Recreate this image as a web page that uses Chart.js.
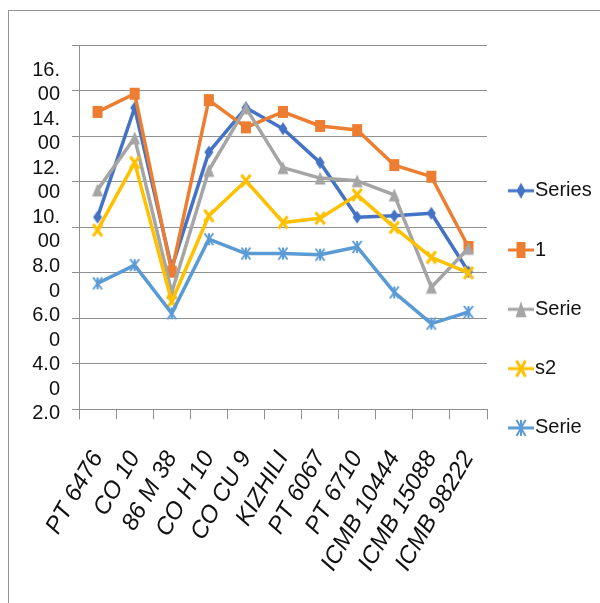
<!DOCTYPE html>
<html>
<head>
<meta charset="utf-8">
<script src="https://cdn.jsdelivr.net/npm/chart.js@4.4.1/dist/chart.umd.min.js"></script>
<style>
  html, body { margin: 0; padding: 0; background: #ffffff; }
  #wrap { position: relative; width: 600px; height: 603px; overflow: hidden; }
  #wrap canvas { position: absolute; left: 0; top: 0; }
  #frame { position: absolute; left: 8px; top: 10px; width: 700px; height: 700px;
           border-left: 1px solid #939393; border-top: 1px solid #939393; pointer-events: none; }
</style>
</head>
<body>
<div id="wrap">
  <canvas id="chart" width="600" height="603"></canvas>
  <div id="frame"></div>
</div>
<script>
// Genotypes on the category axis
const categories = ['PT 6476', 'CO 10', '86 M 38', 'CO H 10', 'CO CU 9', 'KIZHILI',
                    'PT 6067', 'PT 6710', 'ICMB 10444', 'ICMB 15088', 'ICMB 98222'];

// Series values
const series1 = [8.45, 13.26, 6.22, 11.31, 13.26, 12.34, 10.85, 8.45, 8.51, 8.62, 6.05];
const series2 = [13.08, 13.88, 6.05, 13.6, 12.4, 13.08, 12.46, 12.28, 10.74, 10.23, 7.14];
const series3 = [9.65, 11.94, 5.14, 10.51, 13.26, 10.63, 10.17, 10.05, 9.43, 5.37, 7.08];
const series4 = [7.88, 10.85, 4.74, 8.51, 10.05, 8.22, 8.4, 9.43, 8.0, 6.68, 6.0];
const series5 = [5.54, 6.34, 4.22, 7.48, 6.85, 6.85, 6.8, 7.14, 5.14, 3.77, 4.28];

const seriesNames = ['Series1', 'Series2', 'Series3', 'Series4', 'Series5'];
// Legend text as it wraps in the narrow legend column
const legendLines = ['Series', '1', 'Serie', 's2', 'Serie'];

// Value axis: range, step and the wrapped labels of the value column
const yMin = 0;
const yMax = 16;
const yStep = 2;
const yLabelValues = [2, 4, 6, 8, 10, 12, 14, 16];
const yTickLabels = [['2.0', ''], ['4.0', '0'], ['6.0', '0'], ['8.0', '0'],
                     ['10.', '00'], ['12.', '00'], ['14.', '00'], ['16.', '00']];

const seriesColors = ['#4472C4', '#ED7D31', '#A5A5A5', '#FFC000', '#5B9BD5'];
const markerShapes = ['diamond', 'square', 'triangle', 'x', 'star'];
const gridColor = '#8f8f8f';
const textColor = '#111111';
const FONT = "'Liberation Sans', Arial, sans-serif";

// Marker glyphs, drawn once into small canvases and used as point styles
function drawMarker(g, shape, color, cx, cy, w, h) {
  g.fillStyle = color;
  g.strokeStyle = color;
  g.lineCap = 'butt';
  g.beginPath();
  if (shape === 'diamond') {
    g.moveTo(cx, cy - h / 2); g.lineTo(cx + w / 2, cy);
    g.lineTo(cx, cy + h / 2); g.lineTo(cx - w / 2, cy);
    g.closePath(); g.fill();
  } else if (shape === 'square') {
    g.rect(cx - w / 2, cy - h / 2, w, h); g.fill();
  } else if (shape === 'triangle') {
    g.moveTo(cx, cy - h / 2); g.lineTo(cx + w / 2, cy + h / 2);
    g.lineTo(cx - w / 2, cy + h / 2); g.closePath(); g.fill();
  } else if (shape === 'x') {
    g.lineWidth = 3;
    g.moveTo(cx - w / 2, cy - h / 2); g.lineTo(cx + w / 2, cy + h / 2);
    g.moveTo(cx + w / 2, cy - h / 2); g.lineTo(cx - w / 2, cy + h / 2);
    g.stroke();
  } else if (shape === 'star') {
    g.lineWidth = 2;
    g.moveTo(cx - w / 2, cy - h / 2); g.lineTo(cx + w / 2, cy + h / 2);
    g.moveTo(cx + w / 2, cy - h / 2); g.lineTo(cx - w / 2, cy + h / 2);
    g.moveTo(cx, cy - h / 2); g.lineTo(cx, cy + h / 2);
    g.stroke();
  }
}

function pointIcon(shape, color) {
  const c = document.createElement('canvas');
  c.width = 18; c.height = 20;
  const g = c.getContext('2d');
  const dims = { diamond: [9, 13], square: [10, 12], triangle: [11, 13], x: [9, 12], star: [9, 12] }[shape];
  drawMarker(g, shape, color, 9, 10, dims[0], dims[1]);
  return c;
}

function legendIcon(shape, color) {
  const c = document.createElement('canvas');
  c.width = 28; c.height = 22;
  const g = c.getContext('2d');
  g.strokeStyle = color;
  g.lineWidth = 3;
  g.beginPath(); g.moveTo(1, 11); g.lineTo(27, 11); g.stroke();
  drawMarker(g, shape, color, 14, 11, shape === 'triangle' ? 11 : 9, 16);
  return c;
}

const seriesValues = [series1, series2, series3, series4, series5];
const pointIcons = markerShapes.map((s, i) => pointIcon(s, seriesColors[i]));
const legendIcons = markerShapes.map((s, i) => legendIcon(s, seriesColors[i]));

const datasets = seriesValues.map((data, i) => ({
  label: seriesNames[i],
  data: data,
  borderColor: seriesColors[i],
  backgroundColor: seriesColors[i],
  borderWidth: 3.5,
  borderJoinStyle: 'round',
  borderCapStyle: 'round',
  tension: 0,
  fill: false,
  pointStyle: pointIcons[i],
  pointRadius: 6,
  order: seriesValues.length - i,   // later series are painted over earlier ones
  yAxisID: 'y'
}));

new Chart(document.getElementById('chart'), {
  type: 'line',
  data: { labels: categories, datasets: datasets },
  options: {
    responsive: false,
    animation: false,
    devicePixelRatio: 1,
    layout: { padding: { top: 45.5, left: 0, right: 0, bottom: 20.6 } },
    plugins: {
      tooltip: { enabled: false },
      title: { display: false },
      legend: {
        position: 'right',
        align: 'center',
        maxWidth: 113,
        labels: {
          usePointStyle: true,
          pointStyleWidth: 8,
          padding: 30,
          color: textColor,
          font: { family: FONT, size: 20, lineHeight: 1.465 },
          generateLabels: (chart) => chart.data.datasets.map((ds, i) => ({
            text: [legendLines[i]],
            pointStyle: legendIcons[i],
            fillStyle: ds.borderColor,
            strokeStyle: ds.borderColor,
            lineWidth: 0,
            hidden: false,
            datasetIndex: i,
            fontColor: textColor
          }))
        }
      }
    },
    scales: {
      x: {
        type: 'category',
        offset: true,
        grid: { offset: true, drawOnChartArea: false, drawTicks: true, tickLength: 10,
                color: gridColor, lineWidth: 1 },
        border: { display: true, color: gridColor, width: 1 },
        ticks: {
          minRotation: 60, maxRotation: 60, autoSkip: false,
          padding: 27, labelOffset: 0,
          color: textColor,
          font: { family: FONT, size: 24, style: 'italic' }
        },
        afterFit: (scale) => { scale.height = 173.1; }
      },
      y: {
        type: 'linear',
        position: 'left',
        weight: 0,
        min: yMin, max: yMax,
        ticks: { stepSize: yStep, display: false },
        grid: { color: gridColor, lineWidth: 1, drawTicks: true, tickLength: 7 },
        border: { display: true, color: gridColor, width: 1 },
        afterFit: (scale) => { scale.width = 19; }
      },
      // Separate column for the wrapped value labels, which run a little
      // wider apart than the gridlines
      yl: {
        type: 'linear',
        position: 'left',
        weight: 1,
        min: 2.684, max: 17.5,
        grid: { display: false, drawTicks: false },
        border: { display: false },
        ticks: {
          autoSkip: false,
          padding: 0,
          color: textColor,
          font: { family: FONT, size: 20, lineHeight: 1.225 },
          callback: (value, index) => yTickLabels[index]
        },
        afterBuildTicks: (scale) => { scale.ticks = yLabelValues.map(v => ({ value: v })); },
        afterFit: (scale) => { scale.width = 60; }
      }
    }
  }
});
</script>
</body>
</html>
